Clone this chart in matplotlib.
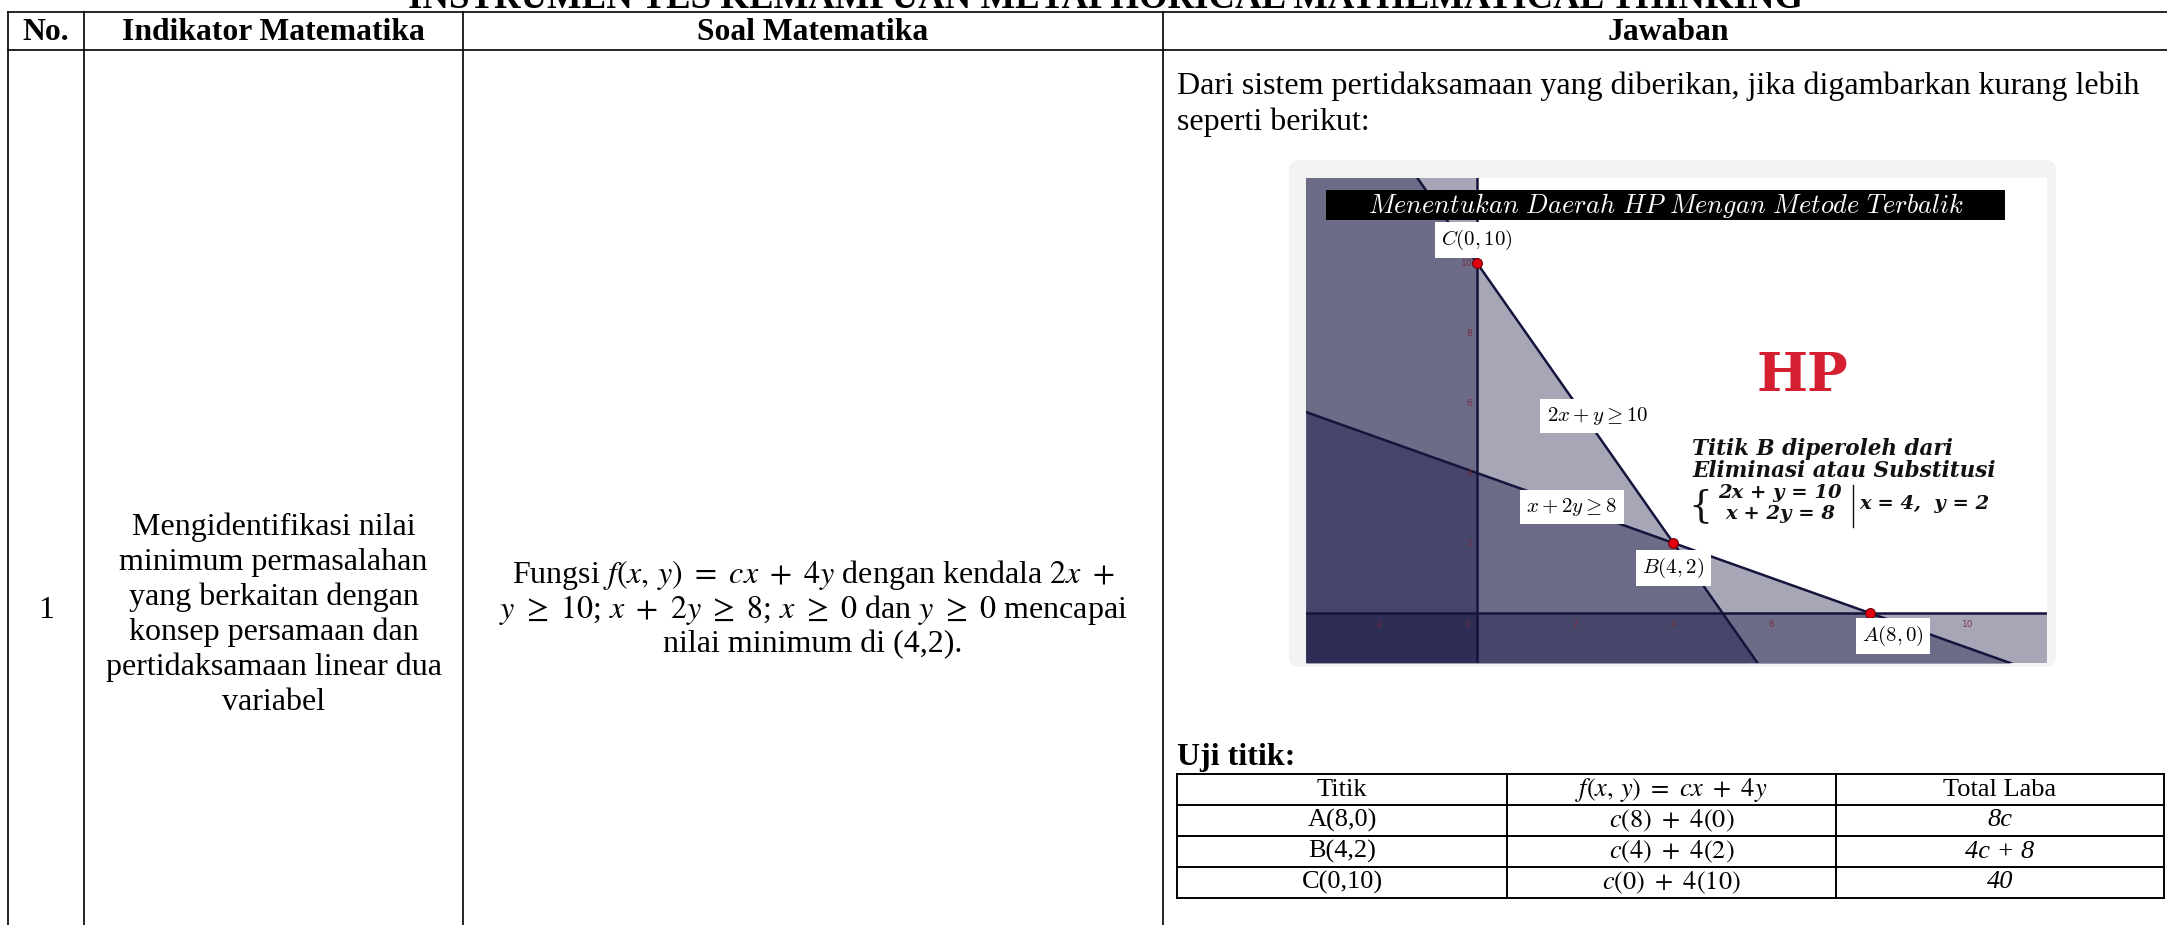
import matplotlib
matplotlib.use('Agg')
import matplotlib.pyplot as plt
from matplotlib.patches import FancyBboxPatch, Rectangle
import numpy as np

# ---- data ----
judul = 'INSTRUMEN TES KEMAMPUAN METAPHORICAL MATHEMATICAL THINKING'
kolom = ['No.', 'Indikator Matematika', 'Soal Matematika', 'Jawaban']
nomor = '1'
indikator = ['Mengidentifikasi nilai', 'minimum permasalahan', 'yang berkaitan dengan',
             'konsep persamaan dan', 'pertidaksamaan linear dua', 'variabel']
soal = [r'Fungsi $f(x,\,y)\ =\ cx\ +\ 4y$ dengan kendala $2x\ +$',
        r'$y\ \geq\ 10$; $x\ +\ 2y\ \geq\ 8$; $x\ \geq\ 0$ dan $y\ \geq\ 0$ mencapai',
        'nilai minimum di (4,2).']
jawaban = ['Dari sistem pertidaksamaan yang diberikan, jika digambarkan kurang lebih',
           'seperti berikut:']

# kendala a*x + b*y >= c
kendala_a = [2, 1]
kendala_b = [1, 2]
kendala_c = [10, 8]
kendala_label = [r'$2x+y\geq10$', r'$x+2y\geq8$']

titik_nama = ['A', 'B', 'C']
titik_x = [8, 4, 0]
titik_y = [0, 2, 10]

# tick labels that are visible (8 on the x axis sits under the A label)
sumbu_x = [-2, 0, 2, 4, 6, 10]
sumbu_y = [2, 4, 6, 8, 10]

grafik_judul = r'$Menentukan\ Daerah\ HP\ Mengan\ Metode\ Terbalik$'
keterangan = ['Titik B diperoleh dari', 'Eliminasi atau Substitusi']
sistem_kiri = ['2x + y = 10', 'x + 2y = 8']
sistem_kanan = 'x = 4,  y = 2'

uji_kolom = ['Titik', r'$f(x,\,y)\ =\ cx\ +\ 4y$', 'Total Laba']
uji_titik = ['A(8,0)', 'B(4,2)', 'C(0,10)']
uji_fungsi = [r'$c(8)\ +\ 4(0)$', r'$c(4)\ +\ 4(2)$', r'$c(0)\ +\ 4(10)$']
uji_laba = ['8c', '4c + 8', '40']

# ---- layout (pixels) ----
W, H = 2167, 925
serif = 'Liberation Serif'
fs = 23
lw = 1.2

fig = plt.figure(figsize=(W / 100, H / 100), dpi=100)
doc = fig.add_axes([0, 0, 1, 1])
doc.set_xlim(0, W)
doc.set_ylim(H, 0)
doc.axis('off')

# main table
kol_x = [8, 84, 463, 1163, 2173]
for x in kol_x[:-1]:
    doc.plot([x, x], [12, H], color='black', lw=lw)
for y in [12, 50]:
    doc.plot([8, W], [y, y], color='black', lw=lw)

doc.text(1105, 8, judul, ha='center', va='baseline', fontsize=26.5,
         fontweight='bold', family=serif)
for i, k in enumerate(kolom):
    doc.text((kol_x[i] + kol_x[i + 1]) / 2, 40, k, ha='center', va='baseline',
             fontsize=22.8, fontweight='bold', family=serif)

doc.text(46, 610, nomor, ha='center', va='center', fontsize=fs, family=serif)
for i, t in enumerate(indikator):
    doc.text(273.5, 527.5 + 35 * i, t, ha='center', va='center', fontsize=fs, family=serif)
for i, t in enumerate(soal):
    doc.text(813, 575 + 35 * i, t, ha='center', va='center', fontsize=fs, family=serif,
             math_fontfamily='stix')
for i, t in enumerate(jawaban):
    doc.text(1177, 86 + 36 * i, t, ha='left', va='center', fontsize=fs, family=serif)

# frame of the picture
gx0, gx1, gy0, gy1 = 1306, 2047, 178, 663
doc.add_patch(FancyBboxPatch((1289, 160), 767, 507, boxstyle='round,pad=0,rounding_size=10',
                             fc='#f3f3f3', ec='none', zorder=0))
doc.add_patch(Rectangle((gx0, gy0), gx1 - gx0, gy1 - gy0, fc='white', ec='none', zorder=0.5))

# ---- graph ----
ox, oy, ux, uy = 1477, 613, 49.1, 35.0
g = fig.add_axes([gx0 / W, 1 - gy1 / H, (gx1 - gx0) / W, (gy1 - gy0) / H])
xmin, xmax = (gx0 - ox) / ux, (gx1 - ox) / ux
ymin, ymax = (oy - gy1) / uy, (oy - gy0) / uy
g.set_xlim(xmin, xmax)
g.set_ylim(ymin, ymax)
g.axis('off')

shade = '#000033'
al = 0.35
xs = np.linspace(xmin, xmax, 50)
g.axvspan(xmin, 0, color=shade, alpha=al, lw=0)
g.axhspan(ymin, 0, color=shade, alpha=al, lw=0)
for a, b, c in zip(kendala_a, kendala_b, kendala_c):
    g.fill_between(xs, ymin - 1, (c - a * xs) / b, color=shade, alpha=al, lw=0)

navy = '#15143c'
g.axhline(0, color=navy, lw=1.8)
g.axvline(0, color=navy, lw=1.8)
for a, b, c in zip(kendala_a, kendala_b, kendala_c):
    g.plot(xs, (c - a * xs) / b, color=navy, lw=1.8)

tick_col = '#7a2638'
for v in sumbu_x:
    g.text(v - (0.2 if v == 0 else 0), -0.33, str(v), ha='center', va='center',
           fontsize=6.5, color=tick_col, alpha=0.85)
for v in sumbu_y:
    g.text(-0.1, v, str(v), ha='right', va='center', fontsize=6.5, color=tick_col, alpha=0.85)

g.scatter(titik_x, titik_y, s=50, color='#e0000e', edgecolor='#6e0008', lw=0.8, zorder=5)

kotak = dict(boxstyle='square,pad=0.3', fc='white', ec='none')
label_dx = [0.47, 0.0, 0.0]
label_dy = [-0.66, -0.71, 0.66]
for n, x, y, dx, dy in zip(titik_nama, titik_x, titik_y, label_dx, label_dy):
    g.text(x + dx, y + dy, r'$%s(%d,%d)$' % (n, x, y), ha='center', va='center',
           fontsize=15, math_fontfamily='cm', bbox=kotak, zorder=6)
g.text(2.45, 5.63, kendala_label[0], ha='center', va='center', fontsize=15,
       math_fontfamily='cm', bbox=kotak, zorder=6)
g.text(1.93, 3.03, kendala_label[1], ha='center', va='center', fontsize=15,
       math_fontfamily='cm', bbox=kotak, zorder=6)

# black title bar
bx0, bx1 = (1326 - ox) / ux, (2005 - ox) / ux
by0, by1 = (oy - 220) / uy, (oy - 190) / uy
g.add_patch(Rectangle((bx0, by0), bx1 - bx0, by1 - by0, fc='black', ec='none', zorder=6))
g.text((bx0 + bx1) / 2, (by0 + by1) / 2, grafik_judul, ha='center', va='center',
       fontsize=19, color='white', math_fontfamily='cm', zorder=7)

g.text(6.62, 6.74, 'HP', ha='center', va='center', fontsize=39, fontweight='bold',
       family='DejaVu Serif', color='#d42030')
for i, t in enumerate(keterangan):
    g.text(4.38, 4.69 - 0.64 * i, t, ha='left', va='center', fontsize=15.5,
           family='DejaVu Serif', fontweight='bold', style='italic', color='#111111')

# system of equations
g.text(4.54, 3.06, '{', ha='center', va='center', fontsize=27, family='DejaVu Serif',
       color='#111111')
g.text(6.17, 3.43, sistem_kiri[0], ha='center', va='center', fontsize=14,
       family='DejaVu Serif', fontweight='bold', style='italic', color='#111111')
g.text(6.17, 2.83, sistem_kiri[1], ha='center', va='center', fontsize=14,
       family='DejaVu Serif', fontweight='bold', style='italic', color='#111111')
g.plot([7.66, 7.66], [2.46, 3.66], color='#111111', lw=1)
g.text(7.78, 3.11, sistem_kanan, ha='left', va='center', fontsize=14,
       family='DejaVu Serif', fontweight='bold', style='italic', color='#111111')

# ---- uji titik ----
doc.text(1177, 757, 'Uji titik:', ha='left', va='center', fontsize=fs,
         fontweight='bold', family=serif)
ux_ = [1177, 1507, 1836, 2164]
uy_ = [774, 805, 836, 867, 898]
for x in ux_:
    doc.plot([x, x], [uy_[0], uy_[-1]], color='black', lw=1.4)
for y in uy_:
    doc.plot([ux_[0], ux_[-1]], [y, y], color='black', lw=1.4)

baris = [uji_kolom] + [[a, b, c] for a, b, c in zip(uji_titik, uji_fungsi, uji_laba)]
for r, isi in enumerate(baris):
    yc = (uy_[r] + uy_[r + 1]) / 2
    for j, t in enumerate(isi):
        gaya = 'italic' if (j == 2 and r > 0) else 'normal'
        doc.text((ux_[j] + ux_[j + 1]) / 2, yc, t, ha='center', va='center', fontsize=19,
                 family=serif, style=gaya, math_fontfamily='stix')

fig.savefig('out.png', dpi=100)
